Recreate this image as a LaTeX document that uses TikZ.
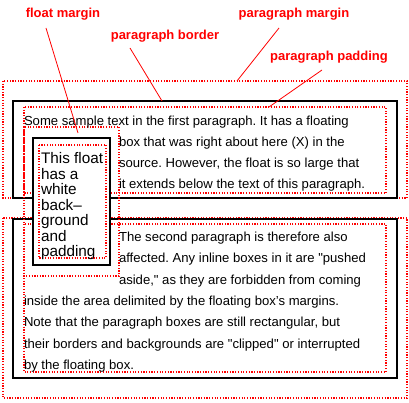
\documentclass[tikz,border=0pt]{standalone}
\usepackage{fontspec}
\setmainfont{Liberation Sans}
\usetikzlibrary{positioning}
\frenchspacing

\begin{document}
\begin{tikzpicture}[
        x=1pt, y=-1pt,
        every node/.style = {inner sep=0pt, outer sep=0pt},
        txt/.style    = {anchor=base west, font=\fontsize{13.1}{21}\selectfont},
        fltxt/.style  = {anchor=base west, font=\fontsize{15.3}{15.4}\selectfont},
        lbl/.style    = {text=red, font=\fontsize{13}{15}\selectfont\bfseries},
        margin/.style = {draw=red, line width=1.2pt, dash pattern=on 1.2pt off 1.5pt},
        border/.style = {draw=black, line width=2pt},
        leader/.style = {draw=red, line width=0.8pt}
    ]
    \useasboundingbox (0,0) rectangle (409,403);

    % --- Paragraph margins ---
    \draw[margin] (3,81)  rectangle (407,198);
    \draw[margin] (3,218) rectangle (407,398);

    % --- Paragraph borders ---
    \draw[border] (13,101) rectangle (397,198);
    \draw[border] (13,219) rectangle (397,378);

    % --- Paragraph padding ---
    \draw[margin] (24,107) rectangle (386,193);
    \draw[margin] (24,224) rectangle (386,372);

    % --- Floating box (white background hides the borders) ---
    \draw[margin] (24,127) rectangle (119,276);
    \draw[border, fill=white] (33,138) rectangle (110,265);
    \draw[margin] (39,145) rectangle (106,258);

    % Float text
    \node[fltxt] (fl1) at (41,164)   {This float};
    \node[fltxt] (fl2) at (41,179.4) {has a};
    \node[fltxt] (fl3) at (41,194.8) {white};
    \node[fltxt] (fl4) at (41,210.2) {back–};
    \node[fltxt] (fl5) at (41,225.6) {ground};
    \node[fltxt] (fl6) at (41,241)   {and};
    \node[fltxt] (fl7) at (41,256.4) {padding};

    % First paragraph
    \node[txt] (pa1) at (24,125.5)  {Some sample text in the first paragraph. It has a floating};
    \node[txt] (pa2) at (119,146.5) {box that was right about here (X) in the};
    \node[txt] (pa3) at (119,167.5) {source. However, the float is so large that};
    \node[txt] (pa4) at (119,188.5) {it extends below the text of this paragraph.};

    % Second paragraph
    \node[txt] (pb1) at (119,241.5) {The second paragraph is therefore also};
    \node[txt] (pb2) at (119,262.8) {affected. Any inline boxes in it are \textquotedbl pushed};
    \node[txt] (pb3) at (119,284)   {aside,\textquotedbl\ as they are forbidden from coming};
    \node[txt] (pb4) at (24,305.4)  {inside the area delimited by the floating box’s margins.};
    \node[txt] (pb5) at (24,326.7)  {Note that the paragraph boxes are still rectangular, but};
    \node[txt] (pb6) at (24,348)    {their borders and backgrounds are \textquotedbl clipped\textquotedbl\ or interrupted};
    \node[txt] (pb7) at (24,369.3)  {by the floating box.};

    % --- Labels and leader lines ---
    \node[lbl] (fmlbl) at (63,14)  {float margin};
    \node[lbl] (pmlbl) at (294,14) {paragraph margin};
    \node[lbl] (pblbl) at (165,36) {paragraph border};
    \node[lbl] (pplbl) at (329,57) {paragraph padding};

    \coordinate (fmtop) at (46,28);
    \coordinate (fmend) at (78,133);
    \coordinate (pbtop) at (130,48);
    \coordinate (pbend) at (162,101);
    \coordinate (pmtop) at (279,28);
    \coordinate (pmend) at (237,81);
    \coordinate (pptop) at (322,70);
    \coordinate (ppend) at (269,107);

    \draw[leader] (fmtop) -- (fmend);
    \draw[leader] (pbtop) -- (pbend);
    \draw[leader] (pmtop) -- (pmend);
    \draw[leader] (pptop) -- (ppend);

\end{tikzpicture}
\end{document}
